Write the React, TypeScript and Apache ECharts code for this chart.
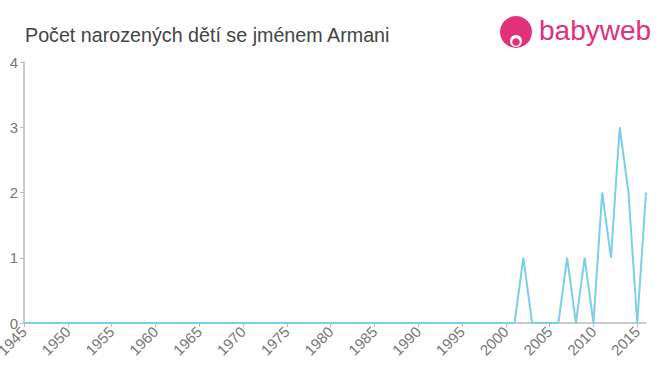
import React, { useEffect, useRef } from "react";
import * as echarts from "echarts";

const years: number[] = [];
for (let y = 1945; y <= 2016; y++) years.push(y);
const nonZero: Record<number, number> = {
  2002: 1, 2007: 1, 2009: 1, 2011: 2, 2012: 1, 2013: 3, 2014: 2, 2016: 2,
};
const counts: number[] = years.map((y) => nonZero[y] ?? 0);
const yTicks = [0, 1, 2, 3, 4];

export default function App() {
  const ref = useRef<HTMLDivElement>(null);
  useEffect(() => {
    const chart = echarts.init(ref.current!, undefined, { renderer: "svg" });
    chart.setOption({
      animation: false,
      title: {
        text: "Počet narozených dětí se jménem Armani",
        left: 20,
        top: 20,
        textStyle: { fontFamily: "Liberation Sans, Arial", fontSize: 19.7, fontWeight: "normal", color: "#444" },
      },
      graphic: [
        { type: "circle", shape: { cx: 516, cy: 32, r: 16 }, style: { fill: "#e0317a" } },
        { type: "circle", shape: { cx: 516, cy: 41, r: 6 }, style: { fill: "#fff" } },
        { type: "circle", shape: { cx: 516, cy: 42, r: 3.8 }, style: { fill: "#e0317a" } },
        {
          type: "text",
          left: 539,
          top: 16,
          style: { text: "babyweb", fontFamily: "Liberation Sans, Arial", fontSize: 28, fill: "#e0317a" },
        },
      ],
      grid: { left: 24, right: 14, top: 62, bottom: 52, containLabel: false, outerBoundsMode: "none" },
      xAxis: {
        type: "value",
        min: 1945,
        max: 2016,
        interval: 5,
        axisLine: { lineStyle: { color: "#bbb", width: 1.5 } },
        axisTick: { show: true, length: 4, lineStyle: { color: "#bbb" } },
        axisLabel: {
          rotate: 45,
          color: "#777",
          fontSize: 15,
          fontFamily: "Liberation Sans, Arial",
          showMaxLabel: false,
          margin: 6,
          formatter: (v: number) => String(v),
        },
        splitLine: { show: false },
      },
      yAxis: {
        type: "value",
        min: 0,
        max: 4,
        interval: 1,
        axisLine: { show: true, lineStyle: { color: "#bbb", width: 1.5 } },
        axisTick: { show: true, length: 4, lineStyle: { color: "#bbb" } },
        axisLabel: {
          color: "#777",
          fontSize: 15,
          fontFamily: "Liberation Sans, Arial",
          margin: 6,
          formatter: (v: number) => (yTicks.includes(v) ? String(v) : ""),
        },
        splitLine: { show: false },
      },
      series: [
        {
          type: "line",
          data: years.map((y, i) => [y, counts[i]]),
          symbol: "none",
          lineStyle: { color: "#7ccfea", width: 2 },
        },
      ],
    });
    return () => chart.dispose();
  }, []);
  return <div ref={ref} style={{ width: 660, height: 375, position: "absolute", left: 0, top: 0 }} />;
}
